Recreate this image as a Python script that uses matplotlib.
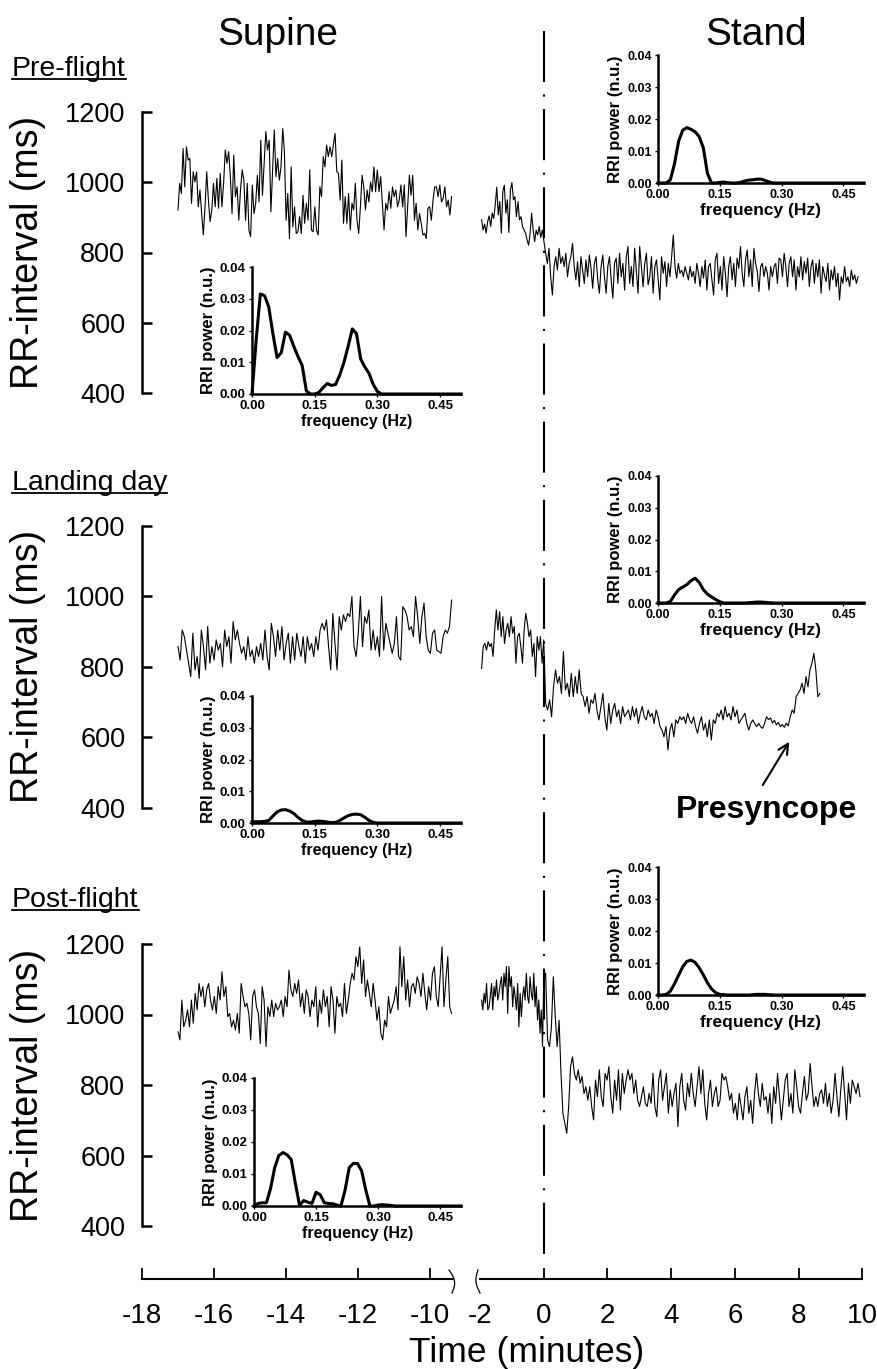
import matplotlib
matplotlib.use("Agg")
import matplotlib.pyplot as plt
import numpy as np
from matplotlib.lines import Line2D
from matplotlib.ticker import FormatStrFormatter

plt.rcParams['font.family'] = ['Liberation Sans', 'DejaVu Sans']
plt.rcParams['axes.unicode_minus'] = False

# ---------------- RR-interval traces (ms) ----------------
# Pre-flight
pre_supine = [921, 997, 968, 1096, 987, 1101, 1063, 1068, 940, 1030, 1001, 1030, 930, 978, 911, 850,
              930, 1030, 949, 888, 921, 997, 930, 1011, 926, 1025, 930, 997, 1092, 1054, 1087, 1016,
              911, 1077, 959, 987, 892, 978, 1035, 1006, 892, 997, 864, 845, 992, 911, 940, 1020,
              944, 1120, 963, 1054, 1144, 1092, 1120, 916, 1030, 1149, 1016, 1068, 1006, 1044, 1153,
              1087, 892, 968, 840, 1044, 873, 930, 854, 859, 902, 854, 963, 883, 940, 892, 1035, 864,
              859, 930, 864, 850, 987, 959, 1073, 1044, 1106, 1073, 1101, 1073, 1106, 1139, 1030,
              1025, 949, 1063, 883, 959, 883, 968, 864, 940, 921, 997, 892, 854, 930, 1020, 987, 921,
              978, 944, 1001, 973, 1044, 973, 1035, 973, 1016, 940, 864, 940, 921, 973, 926, 987,
              959, 978, 930, 949, 992, 930, 992, 845, 935, 1020, 963, 1020, 892, 940, 864, 911, 883,
              850, 854, 840, 926, 930, 892, 949, 987, 987, 959, 992, 944, 954, 987, 930, 949, 907, 959]
pre_before = [893, 864, 881, 855, 888, 904, 874, 912, 897, 935, 986, 907, 945, 855, 973, 992, 912,
              950, 857, 978, 999, 950, 959, 902, 945, 893, 902, 874, 864, 855, 836, 821, 855, 912,
              864, 831, 864, 850, 874, 843, 864, 834]
pre_stand = [798, 769, 812, 731, 679, 760, 788, 750, 812, 769, 788, 760, 798, 731, 769, 788,
             826, 760, 722, 774, 703, 788, 750, 712, 779, 731, 793, 755, 698, 769, 788, 722, 684,
             760, 793, 731, 684, 760, 788, 722, 670, 769, 784, 712, 798, 731, 769, 693, 788, 817,
             712, 760, 703, 812, 750, 684, 817, 760, 703, 769, 798, 708, 731, 788, 684, 760, 779,
             722, 665, 788, 741, 774, 703, 769, 731, 788, 850, 760, 727, 769, 741, 750, 731, 760,
             741, 722, 760, 731, 746, 712, 769, 741, 703, 760, 727, 779, 693, 760, 769, 722, 679,
             779, 798, 712, 760, 693, 788, 741, 674, 760, 788, 722, 769, 703, 784, 755, 817, 741,
             703, 779, 807, 731, 779, 703, 812, 769, 746, 689, 760, 769, 731, 760, 741, 693, 760,
             731, 760, 769, 712, 784, 779, 731, 798, 760, 703, 769, 788, 731, 779, 693, 760, 731,
             788, 722, 774, 741, 784, 703, 760, 779, 712, 769, 731, 779, 684, 760, 736, 717, 769,
             693, 750, 722, 760, 703, 741, 665, 731, 712, 760, 717, 731, 703, 750, 722, 736, 712, 731]

# Landing day
land_supine = [857, 819, 904, 885, 847, 810, 772, 895, 791, 829, 767, 904, 857, 791, 914, 810, 857,
               819, 876, 847, 866, 800, 904, 857, 885, 810, 928, 876, 904, 866, 838, 857, 819, 885,
               829, 847, 810, 857, 829, 866, 819, 904, 829, 791, 923, 885, 829, 904, 847, 914, 819,
               866, 895, 810, 885, 819, 895, 857, 829, 885, 810, 885, 847, 866, 829, 885, 847, 904,
               923, 904, 933, 857, 791, 951, 866, 791, 942, 904, 947, 928, 951, 942, 999, 857, 829,
               895, 999, 857, 942, 923, 961, 847, 904, 847, 885, 829, 999, 847, 923, 895, 866, 838,
               866, 942, 829, 819, 970, 961, 942, 904, 914, 885, 999, 942, 866, 942, 980, 885, 847,
               838, 895, 904, 847, 843, 838, 885, 904, 895, 914, 989]
land_before = [795, 857, 866, 847, 871, 857, 866, 829, 904, 961, 904, 956, 885, 942, 866, 904, 923,
               885, 942, 895, 914, 810, 885, 895, 857, 810, 904, 951, 923, 885, 904, 829, 866, 772,
               885, 847, 885, 810, 876]
land_stand = [696, 677, 706, 658, 743, 791, 753, 772, 724, 843, 734, 753, 715, 781, 715, 772, 724,
              791, 724, 715, 687, 715, 668, 706, 696, 724, 677, 649, 687, 724, 658, 620, 696, 639,
              677, 696, 658, 677, 639, 687, 658, 668, 677, 649, 687, 658, 682, 639, 668, 687, 658,
              649, 677, 658, 668, 639, 677, 658, 630, 620, 601, 630, 564, 620, 639, 601, 649, 639,
              658, 649, 658, 639, 668, 649, 639, 658, 630, 611, 639, 658, 620, 639, 601, 649, 592,
              649, 639, 668, 658, 677, 649, 687, 658, 668, 649, 687, 658, 677, 639, 649, 658, 668,
              639, 620, 639, 649, 639, 630, 639, 630, 625, 639, 658, 650, 655, 640, 648, 635, 642,
              630, 636, 628, 640, 632, 658, 677, 668, 715, 724, 734, 753, 724, 772, 743, 791, 810,
              838, 791, 715, 724]

# Post-flight
post_supine = [951, 928, 1041, 965, 984, 1013, 965, 1041, 975, 1060, 1013, 1088, 1051, 1079, 1022,
               1070, 1088, 1041, 1013, 1051, 1003, 1079, 1041, 1121, 1051, 1079, 994, 1003, 965, 984,
               956, 1003, 947, 1088, 1051, 1022, 1032, 1003, 928, 1051, 1070, 1022, 1003, 918, 1079,
               1041, 909, 1022, 994, 1041, 994, 1032, 1013, 1022, 1041, 994, 1051, 1022, 1126, 1070,
               1051, 1088, 1060, 1098, 1022, 1060, 1003, 1070, 1051, 994, 1041, 1022, 1079, 965, 1041,
               1003, 1070, 1022, 1051, 965, 1079, 1041, 947, 1051, 1022, 1032, 994, 1088, 1003, 1041,
               1088, 1117, 1098, 1164, 1136, 1192, 1088, 1155, 1051, 1098, 1060, 1022, 1088, 1041,
               984, 1022, 947, 928, 984, 965, 1051, 1003, 1022, 1041, 1079, 1013, 1192, 1079, 1164,
               1041, 1098, 1022, 1079, 1088, 1060, 1107, 1088, 1051, 1117, 1060, 1013, 1079, 1041,
               1117, 1136, 1051, 1022, 1107, 1192, 1022, 1098, 1164, 1022, 1003]
post_before = [1041, 1013, 1060, 1032, 1088, 1013, 1022, 1051, 1088, 1013, 1079, 1051, 1098, 1041,
               1060, 1088, 1107, 1041, 1117, 1079, 1136, 1003, 1136, 1079, 1107, 1022, 1079, 1051,
               1013, 1088, 965, 1060, 994, 1051, 1079, 1041, 1117, 1051, 1032, 1107, 1060, 1041, 1117,
               1022, 1079, 984, 1041, 947, 1013, 909, 1098]
post_stand = [1117, 928, 909, 965, 1107, 994, 909, 984, 833, 720, 691, 663, 739, 852, 880, 833, 814,
              843, 805, 824, 776, 795, 757, 795, 739, 701, 814, 767, 843, 767, 739, 833, 814, 852,
              767, 720, 814, 757, 843, 729, 833, 776, 814, 843, 814, 833, 776, 814, 757, 739, 767,
              795, 748, 739, 776, 748, 833, 739, 710, 814, 843, 757, 795, 833, 720, 786, 739, 776,
              805, 682, 795, 833, 757, 729, 805, 767, 833, 776, 739, 795, 852, 776, 843, 748, 701,
              776, 814, 739, 776, 795, 739, 757, 833, 814, 824, 795, 757, 776, 720, 748, 701, 776,
              739, 701, 767, 795, 720, 757, 691, 776, 833, 776, 739, 805, 757, 767, 720, 776, 691,
              795, 748, 833, 767, 701, 757, 814, 833, 739, 776, 720, 843, 795, 739, 720, 776, 824,
              757, 776, 861, 795, 739, 767, 739, 776, 786, 748, 805, 739, 776, 720, 757, 833, 767,
              710, 786, 852, 776, 701, 805, 748, 814, 795, 776, 805, 767]

# segment timing (minutes)
supine_start, supine_end = -17.0, -9.4
before_start = -1.95
stand_start = 0.06
pre_stand_end, land_stand_end, post_stand_end = 9.86, 8.66, 9.92

# ---------------- RRI power spectra (n.u.), 0.00 ... 0.50 Hz ----------------
freq = np.round(np.arange(51) * 0.01, 2)
pre_supine_psd = [0.0, 0.017, 0.0315, 0.031, 0.0275, 0.019, 0.0115, 0.013, 0.0195, 0.0185, 0.015,
                  0.0118, 0.009, 0.001, 0.0, 0.0, 0.0005, 0.002, 0.0033, 0.0027, 0.003, 0.006, 0.010,
                  0.015, 0.0205, 0.019, 0.011, 0.0085, 0.0065, 0.003, 0.0008] + [0.0] * 20
pre_stand_psd = [0.0, 0.0, 0.0, 0.001, 0.006, 0.013, 0.0165, 0.0173, 0.0168, 0.016, 0.0145, 0.011,
                 0.003, 0.0, 0.0, 0.0002, 0.0003, 0.0001, 0.0, 0.0, 0.0002, 0.0006, 0.0009, 0.001,
                 0.0012, 0.0012, 0.0008, 0.0003] + [0.0] * 23
land_supine_psd = [0.0004, 0.0004, 0.0004, 0.0005, 0.0008, 0.0022, 0.0035, 0.0041, 0.0042, 0.0038,
                   0.003, 0.0018, 0.0008, 0.0003, 0.0003, 0.0005, 0.0006, 0.0005, 0.0003, 0.0001,
                   0.0002, 0.0008, 0.0016, 0.0023, 0.0027, 0.0028, 0.0026, 0.0018, 0.0008,
                   0.0002] + [0.0] * 21
land_stand_psd = [0.0, 0.0, 0.0, 0.0005, 0.0025, 0.0042, 0.005, 0.0058, 0.007, 0.0078, 0.0065, 0.0042,
                  0.0028, 0.0019, 0.0011, 0.0004, 0.0, 0.0, 0.0, 0.0, 0.0, 0.0, 0.0001, 0.0002, 0.0003,
                  0.0003, 0.0002, 0.0001] + [0.0] * 23
post_supine_psd = [0.0, 0.0008, 0.001, 0.001, 0.0055, 0.012, 0.0158, 0.0167, 0.016, 0.0145, 0.007,
                   0.0002, 0.0017, 0.0012, 0.0008, 0.0043, 0.0035, 0.001, 0.0008, 0.0007, 0.0003, 0.0,
                   0.005, 0.012, 0.0133, 0.0133, 0.011, 0.005, 0.0, 0.0, 0.0003, 0.0004, 0.0003,
                   0.0002] + [0.0] * 17
post_stand_psd = [0.0, 0.0, 0.0002, 0.0012, 0.0035, 0.0062, 0.0088, 0.0105, 0.0109, 0.0102, 0.0085,
                  0.0063, 0.0038, 0.0019, 0.0007, 0.0002, 0.0001, 0.0, 0.0, 0.0, 0.0, 0.0, 0.0, 0.0001,
                  0.0002, 0.0002, 0.0002, 0.0001] + [0.0] * 23

# ---------------- layout (pixels of the 878 x 1369 canvas) ----------------
W, H = 878, 1369
fig = plt.figure(figsize=(W / 100, H / 100), dpi=100)


def rect(left, top, right, bottom):
    return [left / W, 1 - bottom / H, (right - left) / W, (bottom - top) / H]


LX0, LX1 = 142, 453.4      # -18 .. -9.35 min
RX0, RX1 = 480, 862.5      # -2 .. 10 min
LEFT_LIM = (-18, -9.35)
RIGHT_LIM = (-2, 10)


def inset(left, top, bottom, width, psd, small):
    ax = fig.add_axes(rect(left, top, left + width, bottom))
    ax.plot(freq, psd, color='k', lw=2.2, clip_on=False, solid_joinstyle='round')
    ax.set_xlim(0, 0.5)
    ax.set_ylim(0, 0.04)
    ax.set_xticks([0, 0.15, 0.30, 0.45])
    ax.set_yticks([0, 0.01, 0.02, 0.03, 0.04])
    ax.xaxis.set_major_formatter(FormatStrFormatter('%.2f'))
    ax.yaxis.set_major_formatter(FormatStrFormatter('%.2f'))
    for s in ['top', 'right']:
        ax.spines[s].set_visible(False)
    for s in ['left', 'bottom']:
        ax.spines[s].set_linewidth(1.8)
    ax.patch.set_visible(False)
    ax.tick_params(axis='both', direction='out', length=2.5, width=1, pad=2,
                   labelsize=9.5 if small else 9)
    for lab in ax.get_xticklabels() + ax.get_yticklabels():
        lab.set_fontweight('bold')
    ax.set_ylabel('RRI power (n.u.)', fontsize=12, fontweight='bold', labelpad=3)
    ax.set_xlabel('frequency (Hz)', fontsize=11.5 if small else 12.5, fontweight='bold', labelpad=1)
    return ax


panels = [
    dict(name='Pre-flight', base=76, top=112, bottom=393,
         supine=pre_supine, before=pre_before, stand=pre_stand, end=pre_stand_end,
         sup_psd=pre_supine_psd, std_psd=pre_stand_psd,
         sup_box=(252, 267, 394, 209), std_box=(658, 55, 183, 206)),
    dict(name='Landing day', base=490, top=525.7, bottom=807.7,
         supine=land_supine, before=land_before, stand=land_stand, end=land_stand_end,
         sup_psd=land_supine_psd, std_psd=land_stand_psd,
         sup_box=(252, 696, 823, 209), std_box=(658, 476, 603, 206)),
    dict(name='Post-flight', base=907, top=944, bottom=1226,
         supine=post_supine, before=post_before, stand=post_stand, end=post_stand_end,
         sup_psd=post_supine_psd, std_psd=post_stand_psd,
         sup_box=(254, 1078, 1206, 207), std_box=(658, 867, 995, 206)),
]

name_texts = []
right_axes = []
for p in panels:
    axL = fig.add_axes(rect(LX0, p['top'], LX1, p['bottom']))
    t_sup = np.linspace(supine_start, supine_end, len(p['supine']))
    axL.plot(t_sup, p['supine'], color='k', lw=0.8)
    axL.set_xlim(*LEFT_LIM)
    axL.set_ylim(400, 1200)
    for s in ['top', 'right', 'bottom']:
        axL.spines[s].set_visible(False)
    axL.spines['left'].set_linewidth(1.8)
    axL.set_xticks([])
    axL.set_yticks(np.arange(400, 1201, 200))
    axL.tick_params(axis='y', direction='in', length=7, width=1.8, labelsize=19.5, pad=12)
    axL.patch.set_visible(False)
    axL.text(-0.366, 0.5, 'RR-interval (ms)', transform=axL.transAxes, rotation=90,
             ha='center', va='center', fontsize=27)

    axR = fig.add_axes(rect(RX0, p['top'], RX1, p['bottom']))
    t_std = np.concatenate([np.linspace(before_start, 0, len(p['before'])),
                            np.linspace(stand_start, p['end'], len(p['stand']))])
    axR.plot(t_std, p['before'] + p['stand'], color='k', lw=0.8)
    axR.set_xlim(*RIGHT_LIM)
    axR.set_ylim(400, 1200)
    axR.axis('off')
    right_axes.append(axR)

    inset(*p['sup_box'], p['sup_psd'], True)
    inset(*p['std_box'], p['std_psd'], False)

    name_texts.append((fig.text(12 / W, 1 - p['base'] / H, p['name'], fontsize=20.5,
                                ha='left', va='baseline'), p['base']))

# presyncope marker on landing day stand trace
axR = right_axes[1]
axR.annotate('', xy=(7.70, 587), xytext=(6.87, 464), annotation_clip=False,
             arrowprops=dict(arrowstyle='->', lw=1.5, color='k', mutation_scale=18,
                             shrinkA=0, shrinkB=0))
axR.text(6.99, 371, 'Presyncope', fontsize=23, fontweight='bold', ha='center',
         va='baseline', clip_on=False)

# column titles
fig.text(278 / W, 1 - 45 / H, 'Supine', fontsize=28, ha='center', va='baseline')
fig.text(756 / W, 1 - 45 / H, 'Stand', fontsize=28, ha='center', va='baseline')

# broken time axis
axB1 = fig.add_axes(rect(LX0, 1259, LX1, 1279))
axB2 = fig.add_axes(rect(RX0, 1259, RX1, 1279))
for ax, lim, ticks in [(axB1, LEFT_LIM, np.arange(-18, -9, 2)), (axB2, RIGHT_LIM, np.arange(-2, 11, 2))]:
    ax.set_xlim(*lim)
    ax.set_xticks(ticks)
    ax.set_yticks([])
    for s in ['top', 'right', 'left']:
        ax.spines[s].set_visible(False)
    ax.spines['bottom'].set_linewidth(1.5)
    ax.tick_params(axis='x', direction='in', length=8, width=1.3, labelsize=20, pad=17)
    ax.patch.set_visible(False)
axB2.xaxis.get_major_ticks()[0].tick1line.set_visible(False)
fig.text(527 / W, 1 - 1362 / H, 'Time (minutes)', fontsize=25.5, ha='center', va='baseline')

# axis-break squiggles
tt = np.linspace(0, 1, 30)
for xs in [449 + 3 * tt + 4 * np.sin(np.pi * tt), 478 + 2 * tt - 3 * np.sin(np.pi * tt)]:
    ys = 1270 + 23 * tt
    fig.add_artist(Line2D(xs / W, 1 - ys / H, transform=fig.transFigure, color='k', lw=0.9))

# standing-up marker (dash-dot at t = 0)
axV = fig.add_axes(rect(RX0, 0, RX1, H))
axV.set_xlim(*RIGHT_LIM)
axV.set_ylim(H, 0)
axV.axis('off')
axV.plot([0, 0], [31, 1262], color='k', lw=1.5, linestyle=(0, (24.5, 6, 1, 6)))

# underline the session names
renderer = fig.canvas.get_renderer()
for txt, base in name_texts:
    bb = txt.get_window_extent(renderer=renderer)
    fig.add_artist(Line2D([bb.x0 / W, bb.x1 / W], [1 - (base + 3) / H] * 2,
                          transform=fig.transFigure, color='k', lw=1.3))

fig.savefig('out.png', dpi=100)
